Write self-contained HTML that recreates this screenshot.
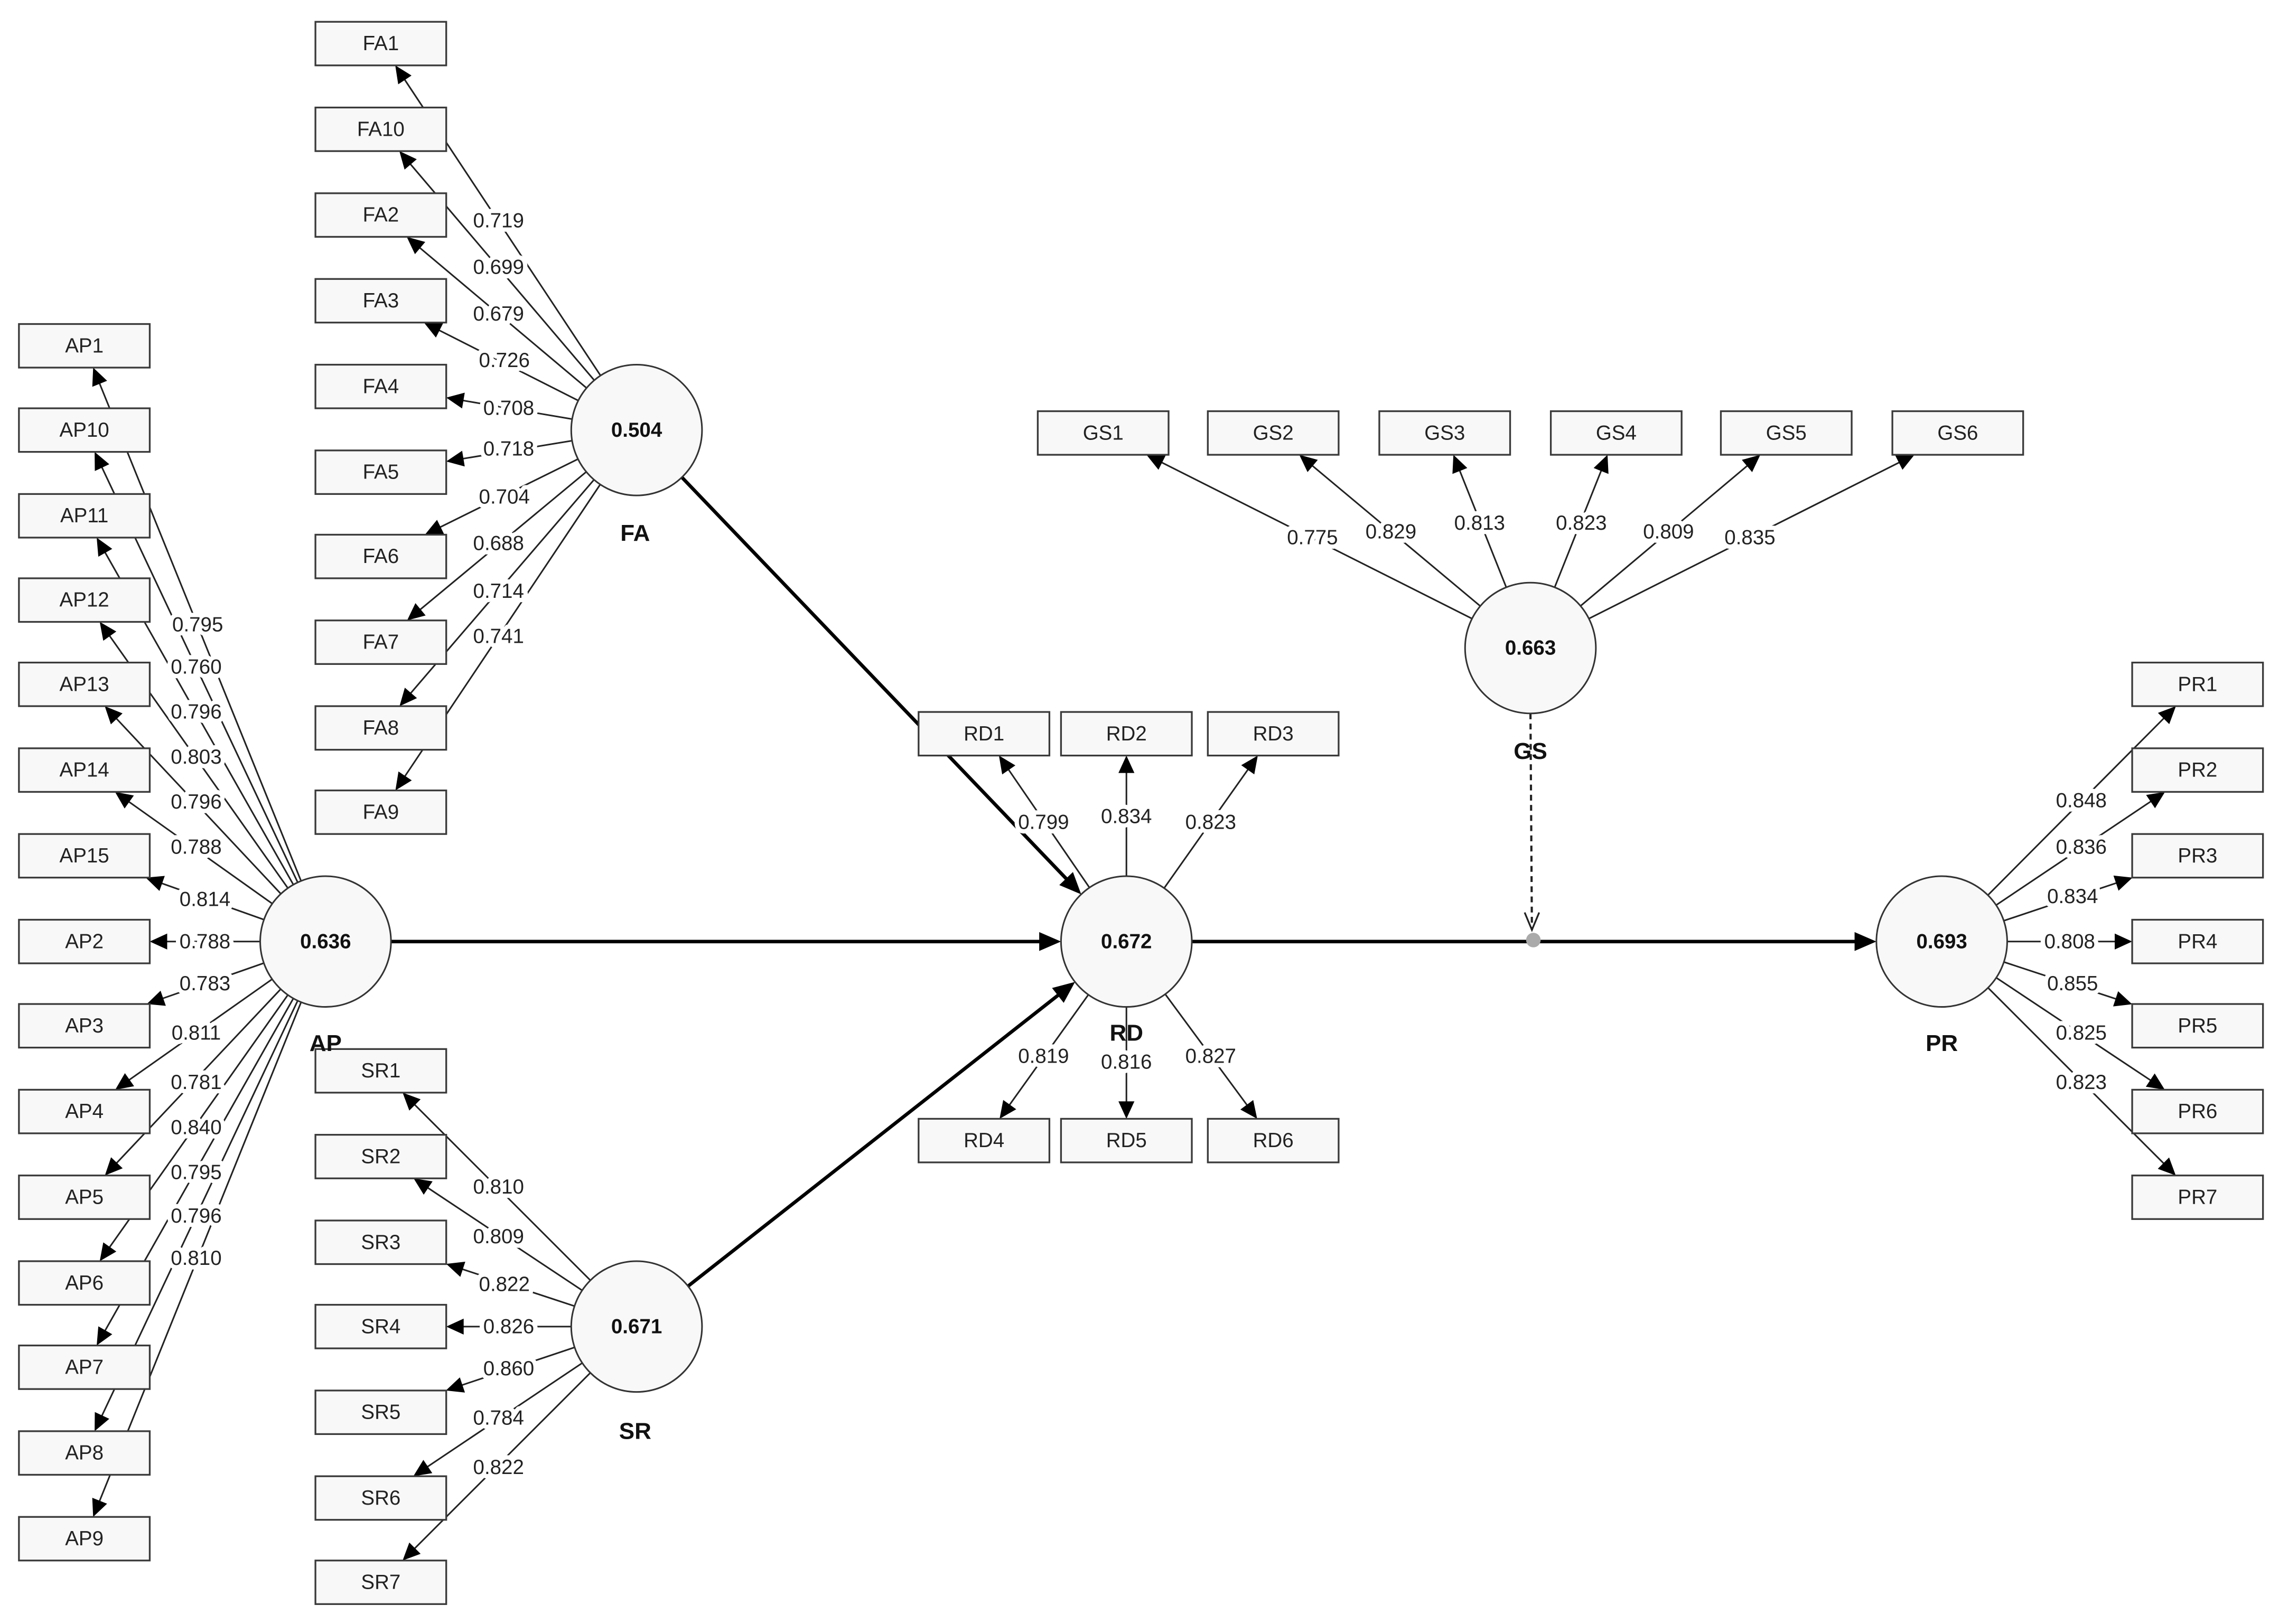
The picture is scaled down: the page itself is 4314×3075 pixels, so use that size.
<!DOCTYPE html>
<html><head><meta charset="utf-8"><style>
html,body{margin:0;padding:0;background:#fff;}
svg{display:block;}
text{font-family:"Liberation Sans",Arial,sans-serif;}
.bx{fill:#f8f8f8;stroke:#3a3a3a;stroke-width:1.2;}
.bt{font-size:14px;fill:#222;text-anchor:middle;dominant-baseline:central;}
.ci{fill:#f8f8f8;stroke:#333;stroke-width:1.1;}
.ct{font-size:14px;font-weight:bold;fill:#111;text-anchor:middle;dominant-baseline:central;}
.cl{font-size:16px;font-weight:bold;fill:#111;text-anchor:middle;dominant-baseline:central;}
.lb{font-size:14px;fill:#222;text-anchor:middle;dominant-baseline:central;paint-order:stroke;stroke:#fff;stroke-width:6px;stroke-linejoin:round;}
</style></head><body>
<svg id="s" width="4314" height="3075" viewBox="0 0 1568 1117.7" xmlns="http://www.w3.org/2000/svg">
<rect width="1568" height="1118" fill="#fff"/>
<g id="lines"></g>
<g id="labels">
<!-- FA -->
<text class="lb" x="343" y="152">0.719</text><text class="lb" x="343" y="184">0.699</text>
<text class="lb" x="343" y="216">0.679</text><text class="lb" x="347" y="248">0.726</text>
<text class="lb" x="350" y="281">0.708</text><text class="lb" x="350" y="309">0.718</text>
<text class="lb" x="347" y="342">0.704</text><text class="lb" x="343" y="374">0.688</text>
<text class="lb" x="343" y="407">0.714</text><text class="lb" x="343" y="438">0.741</text>
<!-- AP -->
<text class="lb" x="136" y="430">0.795</text><text class="lb" x="135" y="459">0.760</text>
<text class="lb" x="135" y="490">0.796</text><text class="lb" x="135" y="521">0.803</text>
<text class="lb" x="135" y="552">0.796</text><text class="lb" x="135" y="583">0.788</text>
<text class="lb" x="141" y="619">0.814</text><text class="lb" x="141" y="648">0.788</text>
<text class="lb" x="141" y="677">0.783</text><text class="lb" x="135" y="711">0.811</text>
<text class="lb" x="135" y="745">0.781</text><text class="lb" x="135" y="776">0.840</text>
<text class="lb" x="135" y="807">0.795</text><text class="lb" x="135" y="837">0.796</text>
<text class="lb" x="135" y="866">0.810</text>
<!-- SR -->
<text class="lb" x="343" y="817">0.810</text><text class="lb" x="343" y="851">0.809</text>
<text class="lb" x="347" y="884">0.822</text><text class="lb" x="350" y="913">0.826</text>
<text class="lb" x="350" y="942">0.860</text><text class="lb" x="343" y="976">0.784</text>
<text class="lb" x="343" y="1010">0.822</text>
<!-- GS -->
<text class="lb" x="903" y="370">0.775</text><text class="lb" x="957" y="366">0.829</text>
<text class="lb" x="1018" y="360">0.813</text><text class="lb" x="1088" y="360">0.823</text>
<text class="lb" x="1148" y="366">0.809</text><text class="lb" x="1204" y="370">0.835</text>
<!-- RD -->
<text class="lb" x="718" y="566">0.799</text><text class="lb" x="775" y="562">0.834</text>
<text class="lb" x="833" y="566">0.823</text><text class="lb" x="718" y="727">0.819</text>
<text class="lb" x="775" y="731">0.816</text><text class="lb" x="833" y="727">0.827</text>
<!-- PR -->
<text class="lb" x="1432" y="551">0.848</text><text class="lb" x="1432" y="583">0.836</text>
<text class="lb" x="1426" y="617">0.834</text><text class="lb" x="1424" y="648">0.808</text>
<text class="lb" x="1426" y="677">0.855</text><text class="lb" x="1432" y="711">0.825</text>
<text class="lb" x="1432" y="745">0.823</text>
</g>
<g id="boxes">
<!-- FA boxes -->
<rect class="bx" x="217" y="15" width="90" height="30"/><text class="bt" x="262" y="30">FA1</text>
<rect class="bx" x="217" y="74" width="90" height="30"/><text class="bt" x="262" y="89">FA10</text>
<rect class="bx" x="217" y="133" width="90" height="30"/><text class="bt" x="262" y="148">FA2</text>
<rect class="bx" x="217" y="192" width="90" height="30"/><text class="bt" x="262" y="207">FA3</text>
<rect class="bx" x="217" y="251" width="90" height="30"/><text class="bt" x="262" y="266">FA4</text>
<rect class="bx" x="217" y="310" width="90" height="30"/><text class="bt" x="262" y="325">FA5</text>
<rect class="bx" x="217" y="368" width="90" height="30"/><text class="bt" x="262" y="383">FA6</text>
<rect class="bx" x="217" y="427" width="90" height="30"/><text class="bt" x="262" y="442">FA7</text>
<rect class="bx" x="217" y="486" width="90" height="30"/><text class="bt" x="262" y="501">FA8</text>
<rect class="bx" x="217" y="544" width="90" height="30"/><text class="bt" x="262" y="559">FA9</text>
<!-- AP boxes -->
<rect class="bx" x="13" y="223" width="90" height="30"/><text class="bt" x="58" y="238">AP1</text>
<rect class="bx" x="13" y="281" width="90" height="30"/><text class="bt" x="58" y="296">AP10</text>
<rect class="bx" x="13" y="340" width="90" height="30"/><text class="bt" x="58" y="355">AP11</text>
<rect class="bx" x="13" y="398" width="90" height="30"/><text class="bt" x="58" y="413">AP12</text>
<rect class="bx" x="13" y="456" width="90" height="30"/><text class="bt" x="58" y="471">AP13</text>
<rect class="bx" x="13" y="515" width="90" height="30"/><text class="bt" x="58" y="530">AP14</text>
<rect class="bx" x="13" y="574" width="90" height="30"/><text class="bt" x="58" y="589">AP15</text>
<rect class="bx" x="13" y="633" width="90" height="30"/><text class="bt" x="58" y="648">AP2</text>
<rect class="bx" x="13" y="691" width="90" height="30"/><text class="bt" x="58" y="706">AP3</text>
<rect class="bx" x="13" y="750" width="90" height="30"/><text class="bt" x="58" y="765">AP4</text>
<rect class="bx" x="13" y="809" width="90" height="30"/><text class="bt" x="58" y="824">AP5</text>
<rect class="bx" x="13" y="868" width="90" height="30"/><text class="bt" x="58" y="883">AP6</text>
<rect class="bx" x="13" y="926" width="90" height="30"/><text class="bt" x="58" y="941">AP7</text>
<rect class="bx" x="13" y="985" width="90" height="30"/><text class="bt" x="58" y="1000">AP8</text>
<rect class="bx" x="13" y="1044" width="90" height="30"/><text class="bt" x="58" y="1059">AP9</text>
<!-- SR boxes -->
<rect class="bx" x="217" y="722" width="90" height="30"/><text class="bt" x="262" y="737">SR1</text>
<rect class="bx" x="217" y="781" width="90" height="30"/><text class="bt" x="262" y="796">SR2</text>
<rect class="bx" x="217" y="840" width="90" height="30"/><text class="bt" x="262" y="855">SR3</text>
<rect class="bx" x="217" y="898" width="90" height="30"/><text class="bt" x="262" y="913">SR4</text>
<rect class="bx" x="217" y="957" width="90" height="30"/><text class="bt" x="262" y="972">SR5</text>
<rect class="bx" x="217" y="1016" width="90" height="30"/><text class="bt" x="262" y="1031">SR6</text>
<rect class="bx" x="217" y="1074" width="90" height="30"/><text class="bt" x="262" y="1089">SR7</text>
<!-- GS boxes -->
<rect class="bx" x="714" y="283" width="90" height="30"/><text class="bt" x="759" y="298">GS1</text>
<rect class="bx" x="831" y="283" width="90" height="30"/><text class="bt" x="876" y="298">GS2</text>
<rect class="bx" x="949" y="283" width="90" height="30"/><text class="bt" x="994" y="298">GS3</text>
<rect class="bx" x="1067" y="283" width="90" height="30"/><text class="bt" x="1112" y="298">GS4</text>
<rect class="bx" x="1184" y="283" width="90" height="30"/><text class="bt" x="1229" y="298">GS5</text>
<rect class="bx" x="1302" y="283" width="90" height="30"/><text class="bt" x="1347" y="298">GS6</text>
<!-- RD boxes -->
<rect class="bx" x="632" y="490" width="90" height="30"/><text class="bt" x="677" y="505">RD1</text>
<rect class="bx" x="730" y="490" width="90" height="30"/><text class="bt" x="775" y="505">RD2</text>
<rect class="bx" x="831" y="490" width="90" height="30"/><text class="bt" x="876" y="505">RD3</text>
<rect class="bx" x="632" y="770" width="90" height="30"/><text class="bt" x="677" y="785">RD4</text>
<rect class="bx" x="730" y="770" width="90" height="30"/><text class="bt" x="775" y="785">RD5</text>
<rect class="bx" x="831" y="770" width="90" height="30"/><text class="bt" x="876" y="785">RD6</text>
<!-- PR boxes -->
<rect class="bx" x="1467" y="456" width="90" height="30"/><text class="bt" x="1512" y="471">PR1</text>
<rect class="bx" x="1467" y="515" width="90" height="30"/><text class="bt" x="1512" y="530">PR2</text>
<rect class="bx" x="1467" y="574" width="90" height="30"/><text class="bt" x="1512" y="589">PR3</text>
<rect class="bx" x="1467" y="633" width="90" height="30"/><text class="bt" x="1512" y="648">PR4</text>
<rect class="bx" x="1467" y="691" width="90" height="30"/><text class="bt" x="1512" y="706">PR5</text>
<rect class="bx" x="1467" y="750" width="90" height="30"/><text class="bt" x="1512" y="765">PR6</text>
<rect class="bx" x="1467" y="809" width="90" height="30"/><text class="bt" x="1512" y="824">PR7</text>
</g>
<g id="circles">
<circle class="ci" cx="438" cy="296" r="45"/><text class="ct" x="438" y="296">0.504</text><text class="cl" x="437" y="367">FA</text>
<circle class="ci" cx="224" cy="648" r="45"/><text class="ct" x="224" y="648">0.636</text><text class="cl" x="224" y="718">AP</text>
<circle class="ci" cx="438" cy="913" r="45"/><text class="ct" x="438" y="913">0.671</text><text class="cl" x="437" y="985">SR</text>
<circle class="ci" cx="775" cy="648" r="45"/><text class="ct" x="775" y="648">0.672</text><text class="cl" x="775" y="711">RD</text>
<circle class="ci" cx="1053" cy="446" r="45"/><text class="ct" x="1053" y="446">0.663</text><text class="cl" x="1053" y="517">GS</text>
<circle class="ci" cx="1336" cy="648" r="45"/><text class="ct" x="1336" y="648">0.693</text><text class="cl" x="1336" y="718">PR</text>
<circle cx="1055" cy="647" r="5" fill="#aaa"/>
</g>
</svg>
<script>
(function(){
var NS="http://www.w3.org/2000/svg",g=document.getElementById("lines");
function el(n,a){var e=document.createElementNS(NS,n);for(var k in a)e.setAttribute(k,a[k]);g.appendChild(e);return e;}
function head(x,y,ux,uy,L,W){var bx=x-ux*L,by=y-uy*L,px=-uy*W/2,py=ux*W/2;
 el("polygon",{points:x+","+y+" "+(bx+px)+","+(by+py)+" "+(bx-px)+","+(by-py),fill:"#000"});}
function load(cx,cy,bx,by){var dx=cx-bx,dy=cy-by;var t=Math.min(dx?45/Math.abs(dx):1e9,dy?15/Math.abs(dy):1e9);
 var ex=bx+dx*t,ey=by+dy*t;var d=Math.hypot(ex-cx,ey-cy),ux=(ex-cx)/d,uy=(ey-cy)/d;
 el("line",{x1:cx,y1:cy,x2:ex-ux*10,y2:ey-uy*10,stroke:"#222","stroke-width":1.1});head(ex,ey,ux,uy,12,11);}
var FA=[30,89,148,207,266,325,383,442,501,559],AP=[238,296,355,413,471,530,589,648,706,765,824,883,941,1000,1059],
SR=[737,796,855,913,972,1031,1089],PR=[471,530,589,648,706,765,824],GS=[759,876,994,1112,1229,1347];
FA.forEach(function(y){load(438,296,262,y);});
AP.forEach(function(y){load(224,648,58,y);});
SR.forEach(function(y){load(438,913,262,y);});
PR.forEach(function(y){load(1336,648,1512,y);});
GS.forEach(function(x){load(1053,446,x,298);});
[[677,505],[775,505],[876,505],[677,785],[775,785],[876,785]].forEach(function(p){load(775,648,p[0],p[1]);});
function path(x1,y1,x2,y2,r1,r2){var dx=x2-x1,dy=y2-y1,d=Math.hypot(dx,dy),ux=dx/d,uy=dy/d;
 var sx=x1+ux*r1,sy=y1+uy*r1,ex=x2-ux*r2,ey=y2-uy*r2;
 el("line",{x1:sx,y1:sy,x2:ex-ux*12,y2:ey-uy*12,stroke:"#000","stroke-width":2.4});head(ex,ey,ux,uy,15,13);}
path(438,296,775,648,45,45);path(224,648,775,648,45,45);path(438,913,775,648,45,45);path(775,648,1336,648,45,45);
el("line",{x1:1053,y1:491,x2:1054,y2:640,stroke:"#222","stroke-width":1.5,"stroke-dasharray":"4,3"});
el("polyline",{points:"1049,628 1054,640 1059,628",fill:"none",stroke:"#222","stroke-width":1.2});
})();
</script>
</body></html>
